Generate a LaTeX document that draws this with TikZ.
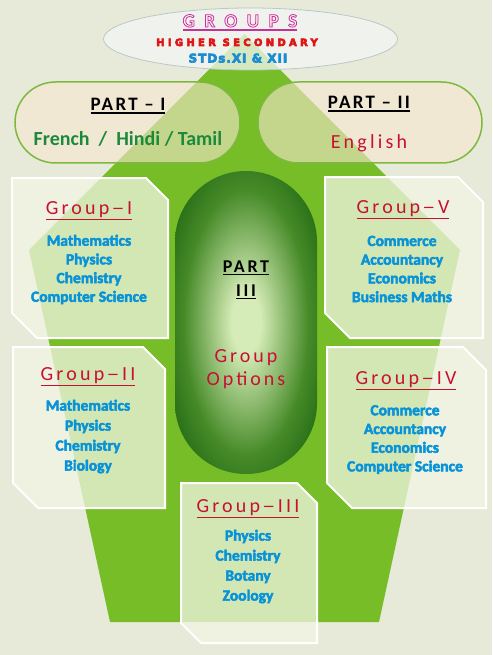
\documentclass[tikz,border=0pt]{standalone}
\usepackage{fontspec}
\setmainfont{Carlito}
\newfontfamily\heavyfont{DejaVu Sans}
\definecolor{bgc}{RGB}{231,234,216}
\definecolor{pgreen}{RGB}{118,189,40}
\definecolor{pillfill}{RGB}{247,232,208}
\definecolor{pillline}{RGB}{126,184,62}
\definecolor{crim}{RGB}{200,16,52}
\definecolor{subjblue}{RGB}{8,146,216}
\definecolor{frgreen}{RGB}{28,138,60}
\definecolor{boxfill}{RGB}{242,246,228}
\definecolor{capdark}{RGB}{18,90,10}
\definecolor{capmid}{RGB}{70,138,40}
\definecolor{caplight}{RGB}{214,236,184}
\definecolor{hsred}{RGB}{222,22,22}
\definecolor{stdblue}{RGB}{28,140,208}
\definecolor{grpmag}{RGB}{196,52,150}
\definecolor{ellfill}{RGB}{244,247,245}
\definecolor{ellline}{RGB}{185,200,200}
\pgfdeclareradialshading{capshade}{\pgfpointorigin}{color(0bp)=(caplight); color(5bp)=(caplight); color(22bp)=(capmid); color(36bp)=(capdark); color(50bp)=(capdark)}
\newcommand\myuline[3]{%
  \setbox0=\hbox{#3}%
  \hbox{\rlap{\color{#1}\rule[\dimexpr-\dp0-1.5pt-#2\relax]{\wd0}{#2}}\box0}}
\newcommand\outl[1]{\special{pdf:literal direct 2 Tr 0.8 w 0.77 0.2 0.59 RG 1 0.9 0.97 rg}#1\special{pdf:literal direct 0 Tr 0.4 w}}
\newcommand\thk[2]{\special{pdf:literal direct 2 Tr #1 w}#2\special{pdf:literal direct 0 Tr 0.4 w}}
\newcommand\gdash{\kern2.2pt\scalebox{1.3}[1]{–}\kern2.6pt}
\newcommand\gbox[6]{%
  \path[boxsty] (#1,#2) -- (#3-#5,#2) -- (#3,#2+#5) -- (#3,#4) -- (#1+#6,#4) -- (#1,#4-#6) -- cycle;}
\tikzset{
  boxsty/.style={fill=boxfill, fill opacity=0.75, draw=white, line width=2pt},
  pill/.style={fill=pillfill, fill opacity=0.6, draw=pillline, line width=1.5pt, rounded corners=40.5pt},
  gtitle/.style={anchor=base, inner sep=0pt, text=crim, font=\fontsize{20}{24}\selectfont\addfontfeatures{LetterSpace=16}},
  subj/.style={align=center, inner sep=0pt, text=subjblue, font=\bfseries\fontsize{15.5}{#1}\selectfont,
    execute at begin node={\special{pdf:literal direct 2 Tr 0.45 w}},
    execute at end node={\special{pdf:literal direct 0 Tr 0.4 w}}},
  subj/.default=18.7,
  parthead/.style={anchor=base, inner sep=0pt, text=black, font=\bfseries\fontsize{19}{22}\selectfont\addfontfeatures{LetterSpace=12}},
}
\begin{document}
\begin{tikzpicture}[x=1pt,y=-1pt]
\useasboundingbox (0,0) rectangle (492,655);
\fill[bgc] (0,0) rectangle (492,655);
% big green pentagon
\fill[pgreen] (244.5,34) -- (460,250) -- (379,622) -- (110,622) -- (29,250) -- cycle;
% part III capsule
\shade[shading=capshade, rounded corners=71pt] (175,171) rectangle (317,474);
% group boxes
\gbox{12}{178}{168}{338}{22}{25}
\gbox{13}{347}{165}{508}{22}{25}
\gbox{325}{177}{483}{338}{25}{25}
\gbox{327}{347}{486}{508}{23}{25}
\gbox{181}{483}{317}{643}{20}{20}
% pills
\path[pill] (15,82) rectangle (240,163);
\path[pill] (258,82) rectangle (482,163);
% top ellipse
\path[fill=ellfill, fill opacity=0.75, draw=ellline, line width=0.8pt] (250.5,39) ellipse [x radius=147, y radius=31];
% header texts
\node[anchor=base, inner sep=0pt] (groups) at (240,27) {\bfseries\fontsize{19}{20}\selectfont\addfontfeatures{LetterSpace=50}\myuline{grpmag}{2.5pt}{\outl{GROUPS}}};
\node[anchor=base, inner sep=0pt, text=hsred] (hs) at (237,46) {\heavyfont\bfseries\fontsize{10}{11}\selectfont\addfontfeatures{LetterSpace=33}\thk{0.6}{HIGHER SECONDARY}};
\node[anchor=base, inner sep=0pt, text=stdblue] (std) at (238,62.5) {\heavyfont\bfseries\fontsize{12}{13}\selectfont\addfontfeatures{LetterSpace=8}\thk{0.6}{STDs.XI \& XII}};
% part I / II
\node[parthead] (p1) at (128,111) {\myuline{black}{1.2pt}{PART – I}};
\node[anchor=base, inner sep=0pt, text=frgreen, font=\bfseries\fontsize{20}{24}\selectfont] (lang1) at (128,145.7) {French \ / \ Hindi / Tamil};
\node[parthead] (p2) at (369,109) {\myuline{black}{1.2pt}{PART – II}};
\node[anchor=base, inner sep=0pt, text=crim, font=\fontsize{20}{24}\selectfont\addfontfeatures{LetterSpace=16}] (lang2) at (369,149) {English};
% part III
\node[parthead, font=\bfseries\fontsize{18}{22}\selectfont\addfontfeatures{LetterSpace=15}] (p3a) at (246,272) {\myuline{black}{1.2pt}{PART}};
\node[parthead, font=\bfseries\fontsize{18}{22}\selectfont\addfontfeatures{LetterSpace=15}] (p3b) at (246,296) {\myuline{black}{1.2pt}{III}};
\node[anchor=base, inner sep=0pt, text=crim, font=\fontsize{20}{24}\selectfont\addfontfeatures{LetterSpace=15}] (go1) at (246,362) {Group};
\node[anchor=base, inner sep=0pt, text=crim, font=\fontsize{20}{24}\selectfont\addfontfeatures{LetterSpace=15}] (go2) at (246,385) {Options};
% group titles
\node[gtitle] (g1t) at (89,214) {\myuline{crim}{1.5pt}{Group\gdash I}};
\node[gtitle] (g5t) at (403,213) {\myuline{crim}{1.5pt}{Group\gdash V}};
\node[gtitle] (g2t) at (88,380) {\myuline{crim}{1.5pt}{Group\gdash II}};
\node[gtitle] (g4t) at (406,384) {\myuline{crim}{1.5pt}{Group\gdash IV}};
\node[gtitle] (g3t) at (248,512) {\myuline{crim}{1.5pt}{Group\gdash III}};
% subjects
\node[subj] (g1s) at (89,269.5) {Mathematics\\Physics\\Chemistry\\Computer Science};
\node[subj] (g5s) at (402,269) {Commerce\\Accountancy\\Economics\\Business Maths};
\node[subj=20] (g2s) at (88,436.5) {Mathematics\\Physics\\Chemistry\\Biology};
\node[subj] (g4s) at (405,439.5) {Commerce\\Accountancy\\Economics\\Computer Science};
\node[subj=20] (g3s) at (248,566.5) {Physics\\Chemistry\\Botany\\Zoology};
\end{tikzpicture}
\end{document}
